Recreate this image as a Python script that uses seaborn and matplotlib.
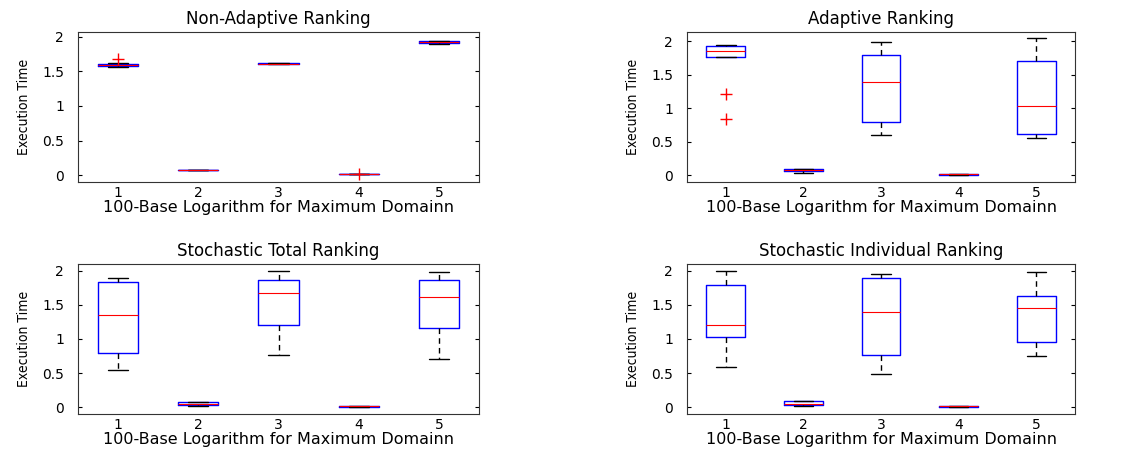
import matplotlib
matplotlib.use("Agg")
import matplotlib.pyplot as plt
import matplotlib.ticker as mticker
import seaborn as sns
import pandas as pd

# domain exponent categories (100-base log of max domain)
domains = ["1", "2", "3", "4", "5"]

# execution time samples per domain
non_adaptive = [
    [1.57, 1.572, 1.575, 1.58, 1.59, 1.60, 1.61, 1.62, 1.68],
    [0.07, 0.07, 0.07, 0.07, 0.07, 0.07, 0.07, 0.07, 0.07],
    [1.60, 1.60, 1.605, 1.607, 1.61, 1.612, 1.615, 1.618, 1.62],
    [0.01, 0.01, 0.01, 0.01, 0.01, 0.01, 0.01, 0.01, 0.02],
    [1.89, 1.90, 1.905, 1.91, 1.92, 1.93, 1.935, 1.94, 1.945],
]
adaptive = [
    [0.84, 1.22, 1.77, 1.80, 1.85, 1.90, 1.93, 1.94, 1.95],
    [0.04, 0.05, 0.06, 0.07, 0.075, 0.085, 0.095, 0.097, 0.10],
    [0.60, 0.70, 0.80, 1.10, 1.40, 1.60, 1.80, 1.90, 1.99],
    [0.01, 0.01, 0.012, 0.015, 0.02, 0.02, 0.02, 0.02, 0.02],
    [0.55, 0.58, 0.62, 0.80, 1.04, 1.40, 1.70, 1.90, 2.05],
]
stoch_total = [
    [0.54, 0.65, 0.79, 1.10, 1.35, 1.60, 1.84, 1.87, 1.90],
    [0.02, 0.025, 0.03, 0.035, 0.04, 0.05, 0.07, 0.07, 0.07],
    [0.77, 1.00, 1.21, 1.45, 1.68, 1.78, 1.87, 1.95, 2.00],
    [0.01, 0.01, 0.01, 0.012, 0.015, 0.018, 0.02, 0.02, 0.02],
    [0.70, 0.95, 1.16, 1.40, 1.62, 1.75, 1.86, 1.92, 1.99],
]
stoch_indiv = [
    [0.59, 0.80, 1.03, 1.10, 1.20, 1.50, 1.79, 1.90, 2.00],
    [0.02, 0.025, 0.03, 0.04, 0.05, 0.07, 0.09, 0.09, 0.09],
    [0.49, 0.60, 0.77, 1.10, 1.40, 1.65, 1.90, 1.92, 1.95],
    [0.01, 0.01, 0.01, 0.012, 0.02, 0.02, 0.02, 0.02, 0.02],
    [0.75, 0.85, 0.95, 1.20, 1.45, 1.55, 1.63, 1.80, 1.98],
]

titles = ["Non-Adaptive Ranking", "Adaptive Ranking",
          "Stochastic Total Ranking", "Stochastic Individual Ranking"]
panels = [non_adaptive, adaptive, stoch_total, stoch_indiv]
ytops = [2.07, 2.14, 2.1, 2.1]

sns.set_style("white")
plt.rcParams['font.family'] = ['DejaVu Sans']
plt.rcParams['text.color'] = 'black'
plt.rcParams['axes.labelcolor'] = 'black'

fig, axes = plt.subplots(2, 2, figsize=(11.48, 4.5), dpi=100)
W, H = 1148, 450
pos = [(78, 32, 401, 150), (687, 32, 388, 150),
       (78, 264, 401, 150), (687, 264, 388, 150)]

for ax, title, samples, ytop, p in zip(axes.flat, titles, panels, ytops, pos):
    rows = [(d, v) for d, vals in zip(domains, samples) for v in vals]
    df = pd.DataFrame(rows, columns=["domain", "time"])
    sns.boxplot(data=df, x="domain", y="time", ax=ax, width=0.5, fill=False,
                linecolor="blue", linewidth=1,
                boxprops=dict(color="blue"),
                medianprops=dict(color="red", linewidth=0.8),
                whiskerprops=dict(color="black", linestyle="--", dashes=(4, 3)),
                capprops=dict(color="black"),
                flierprops=dict(marker="+", markeredgecolor="red",
                                markersize=9, markeredgewidth=1))
    x0, y0, w, h = p
    ax.set_position([x0 / W, 1 - (y0 + h) / H, w / W, h / H])
    ax.set_ylim(-0.1, ytop)
    ax.set_xlim(-0.5, 4.5)
    ax.set_yticks([0, 0.5, 1, 1.5, 2])
    ax.yaxis.set_major_formatter(mticker.FuncFormatter(lambda v, _: f"{v:g}"))
    ax.set_title(title, fontsize=12, pad=6)
    ax.set_xlabel("100-Base Logarithm for Maximum Domainn", fontsize=11.5, labelpad=0)
    ax.set_ylabel("Execution Time", fontsize=10, labelpad=8, fontstretch="condensed")
    ax.tick_params(axis="y", direction="in", length=3, labelsize=10, colors="black",
                   left=True, right=True, pad=10)
    ax.tick_params(axis="x", direction="in", length=0, labelsize=10, colors="black",
                   bottom=False, top=False, pad=3)
    for s in ax.spines.values():
        s.set_visible(True)
        s.set_color("#333333")
        s.set_linewidth(0.8)

fig.savefig("out.png", dpi=100)
